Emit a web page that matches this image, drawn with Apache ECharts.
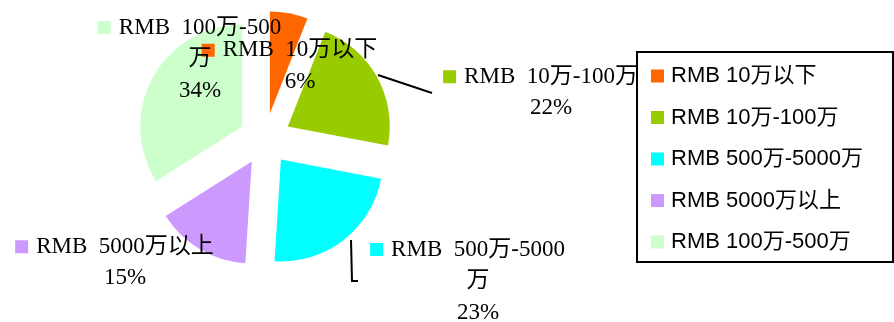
<!DOCTYPE html>
<html><head><meta charset="utf-8">
<script src="https://cdn.jsdelivr.net/npm/echarts@6/dist/echarts.min.js"></script>
<style>html,body{margin:0;padding:0;background:#fff}#c{width:894px;height:322px}</style>
</head><body><div id="c"></div>
<script>
// ---- data ----
const categories = ['RMB 10万以下', 'RMB 10万-100万', 'RMB 500万-5000万', 'RMB 5000万以上', 'RMB 100万-500万'];
const values = [6, 22, 23, 15, 34];
const colors = ['#FF6600', '#99CC00', '#00FFFF', '#CC99FF', '#CCFFCC'];
const labelLines = ['RMB  10万以下', 'RMB  10万-100万', 'RMB  500万-5000\n万', 'RMB  5000万以上', 'RMB  100万-500\n万'];

// ---- layout (label anchors, leader lines) ----
const labelPos = [[300, 66], [551, 92.5], [478, 281], [125, 262.5], [200, 59]];
const leader = {
  1: [[378, 75], [405, 84], [432, 93]],
  2: [[351, 240], [352, 281], [358, 281]]
};

const serif = '"Liberation Serif", "Noto Sans CJK SC", serif';
const LH = 31.5;
const CENTER = [265, 139];
const R = 102;

const sliceData = categories.map((name, i) => ({
  name: name, value: values[i], selected: true, itemStyle: { color: colors[i] }
}));

const labelData = categories.map((name, i) => {
  const parts = labelLines[i].split('\n');
  const first = '{sq| }{g| }' + parts[0] + '{g| }{sp| }';
  return {
    name: name,
    value: values[i],
    itemStyle: { color: 'rgba(0,0,0,0)' },
    label: {
      formatter: [first].concat(parts.slice(1)).join('\n') + '\n{d}%',
      rich: {
        sq: { width: 13, height: 13, backgroundColor: colors[i], verticalAlign: 'middle', lineHeight: LH },
        g: { width: 8, lineHeight: LH },
        sp: { width: 13, lineHeight: LH }
      }
    },
    labelLine: { show: !!leader[i] }
  };
});

const chart = echarts.init(document.getElementById('c'), null, { renderer: 'canvas' });
chart.setOption({
  animation: false,
  legend: {
    orient: 'vertical',
    left: 637, top: 52,
    padding: [13, 30, 9, 14],
    itemGap: 19.5,
    itemWidth: 13, itemHeight: 13,
    icon: 'rect',
    borderColor: '#000', borderWidth: 2,
    selectedMode: false,
    data: categories,
    textStyle: { fontFamily: '"Liberation Sans", "Noto Sans CJK SC", sans-serif', fontSize: 22, color: '#000', padding: [0, 0, 0, 2] }
  },
  series: [{
    type: 'pie',
    center: CENTER,
    radius: R,
    startAngle: 90,
    clockwise: true,
    selectedMode: 'multiple',
    selectedOffset: 26,
    emphasis: { disabled: true },
    label: { show: false },
    labelLine: { show: false },
    data: sliceData
  }, {
    type: 'pie',
    center: CENTER,
    radius: R,
    startAngle: 90,
    clockwise: true,
    silent: true,
    selectedMode: false,
    avoidLabelOverlap: false,
    emphasis: { disabled: true },
    label: {
      show: true,
      position: 'outside',
      fontFamily: serif,
      fontSize: 23,
      lineHeight: LH,
      color: '#000',
      opacity: 1,
      align: 'center'
    },
    labelLine: { show: true, length: 10, length2: 10, lineStyle: { color: '#000', width: 2 } },
    labelLayout: function (p) {
      const i = p.dataIndex;
      const r = { x: labelPos[i][0], y: labelPos[i][1], align: 'center', verticalAlign: 'middle' };
      if (leader[i]) r.labelLinePoints = leader[i];
      return r;
    },
    data: labelData
  }]
});
</script></body></html>
